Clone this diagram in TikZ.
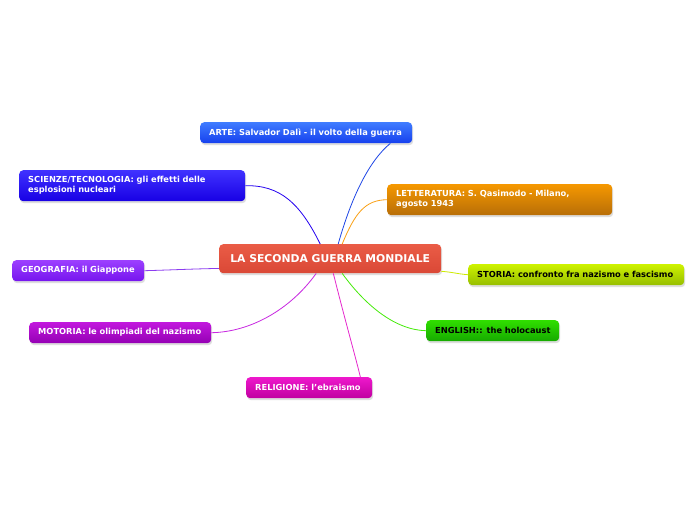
\documentclass[tikz,border=0pt]{standalone}
\usepackage{fontspec}
\setmainfont{DejaVu Sans}
\usetikzlibrary{calc}
\definecolor{arteT}{RGB}{64,124,255}\definecolor{arteB}{RGB}{22,64,238}\definecolor{arteL}{RGB}{30,70,230}
\definecolor{sciT}{RGB}{64,50,255}\definecolor{sciB}{RGB}{24,0,228}\definecolor{sciL}{RGB}{36,0,240}
\definecolor{letT}{RGB}{246,152,0}\definecolor{letB}{RGB}{184,110,8}\definecolor{letL}{RGB}{250,160,20}
\definecolor{stoT}{RGB}{206,242,0}\definecolor{stoB}{RGB}{150,190,0}\definecolor{stoL}{RGB}{205,235,0}
\definecolor{geoT}{RGB}{156,64,255}\definecolor{geoB}{RGB}{118,20,238}\definecolor{geoL}{RGB}{140,60,240}
\definecolor{motT}{RGB}{194,24,222}\definecolor{motB}{RGB}{148,0,180}\definecolor{motL}{RGB}{200,40,225}
\definecolor{engT}{RGB}{48,222,0}\definecolor{engB}{RGB}{22,170,0}\definecolor{engL}{RGB}{70,235,10}
\definecolor{relT}{RGB}{238,24,204}\definecolor{relB}{RGB}{192,0,160}\definecolor{relL}{RGB}{230,40,205}
\definecolor{cenT}{RGB}{234,92,70}\definecolor{cenB}{RGB}{218,72,54}
\tikzset{
  x=1pt,y=-1pt,
  topic/.style={anchor=north west,rectangle,rounded corners=4pt,inner xsep=9pt,inner ysep=0pt,
    align=left,font=\fontsize{8.3}{10}\selectfont\bfseries,text=white,
    preaction={fill=black!25,opacity=0.5,transform canvas={xshift=1pt,yshift=-2pt}}},
  conn/.style={line width=0.8pt},
}
\begin{document}
\begin{tikzpicture}
\useasboundingbox (0,0) rectangle (696,520);
\fill[white] (0,0) rectangle (696,520);
% central
\node[anchor=north west,rectangle,rounded corners=4pt,minimum width=222pt,minimum height=29pt,
  top color=cenT,bottom color=cenB,text=white,font=\fontsize{10.8}{12}\selectfont\bfseries,
  preaction={fill=black!25,opacity=0.5,transform canvas={xshift=1pt,yshift=-2pt}}] (c) at (219,244) {LA SECONDA GUERRA MONDIALE};
% topics
\node[topic,minimum width=212pt,minimum height=21pt,text width=194pt,top color=arteT,bottom color=arteB] (arte) at (200,122) {\mbox{ARTE: Salvador Dalì - il volto della guerra}};
\node[topic,minimum width=226pt,minimum height=31pt,text width=208pt,top color=sciT,bottom color=sciB] (sci) at (19,170) {\mbox{SCIENZE/TECNOLOGIA: gli effetti delle}\\\mbox{esplosioni nucleari}};
\node[topic,minimum width=225pt,minimum height=31pt,text width=207pt,top color=letT,bottom color=letB] (let) at (387,184) {\mbox{LETTERATURA: S. Qasimodo - Milano,}\\\mbox{agosto 1943}};
\node[topic,minimum width=216pt,minimum height=21pt,text width=198pt,top color=stoT,bottom color=stoB,text=black] (sto) at (468,264) {\mbox{STORIA: confronto fra nazismo e fascismo}};
\node[topic,minimum width=132pt,minimum height=21pt,text width=114pt,top color=geoT,bottom color=geoB] (geo) at (12,260) {\mbox{GEOGRAFIA: il Giappone}};
\node[topic,minimum width=182pt,minimum height=21pt,text width=164pt,top color=motT,bottom color=motB] (mot) at (29,322) {\mbox{MOTORIA: le olimpiadi del nazismo}};
\node[topic,minimum width=133pt,minimum height=21pt,text width=115pt,top color=engT,bottom color=engB,text=black] (eng) at (426,320) {\mbox{ENGLISH:: the holocaust}};
\node[topic,minimum width=126pt,minimum height=21pt,text width=108pt,top color=relT,bottom color=relB] (rel) at (246,377) {\mbox{RELIGIONE: l'ebraismo}};
% connectors
\coordinate (aA) at ($(arte.south west)!0.896!(arte.south east)$);
\draw[conn,arteL] ($(c.north west)!0.536!(c.north east)$) .. controls (352,195) and (370,160) .. (aA);
\draw[conn,sciL] ($(c.north west)!0.455!(c.north east)$) .. controls (300,203) and (280,185) .. (sci.east);
\draw[conn,letL] ($(c.north west)!0.554!(c.north east)$) .. controls (355,213) and (365,200) .. (let.west);
\draw[conn,stoL] ($(c.north east)!0.93!(c.south east)$) .. controls (452,272) and (458,274) .. (sto.west);
\draw[conn,geoL] ($(c.north west)!0.83!(c.south west)$) .. controls (190,269) and (170,270) .. (geo.east);
\draw[conn,motL] ($(c.south west)!0.437!(c.south east)$) .. controls (290,310) and (250,332) .. (mot.east);
\draw[conn,engL] ($(c.south west)!0.554!(c.south east)$) .. controls (365,305) and (395,330) .. (eng.west);
\coordinate (rA) at ($(rel.north west)!0.905!(rel.north east)$);
\draw[conn,relL] ($(c.south west)!0.514!(c.south east)$) .. controls (345,320) and (355,355) .. (rA);
\end{tikzpicture}
\end{document}
